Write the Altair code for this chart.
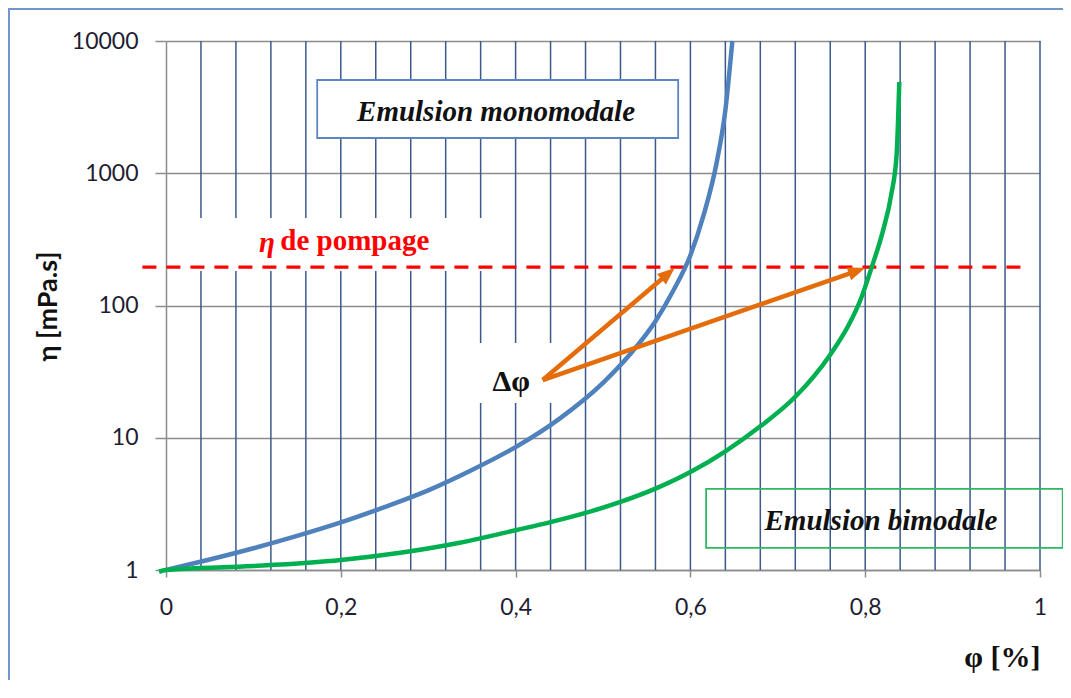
import math
import altair as alt
import pandas as pd

# ---------------- data ----------------
PHI_MONO = [0, 0.05, 0.1, 0.15, 0.2, 0.25, 0.3, 0.35, 0.4, 0.45, 0.5, 0.53,
            0.56, 0.58, 0.6, 0.615, 0.63, 0.64, 0.648]
ETA_MONO = [1, 1.2, 1.46, 1.81, 2.29, 2.99, 4.0, 5.7, 8.5, 13.9, 26, 42,
            76, 128, 240, 480, 1200, 3000, 10000]

PHI_BI = [-0.008, 0.0, 0.1, 0.2, 0.268, 0.33, 0.4, 0.44, 0.48, 0.52, 0.56, 0.6,
          0.64, 0.68, 0.72, 0.76, 0.78, 0.795, 0.808, 0.82, 0.83, 0.836, 0.839]
ETA_BI = [0.97, 1.0, 1.07, 1.19, 1.35, 1.58, 2.0, 2.3, 2.7, 3.27, 4.12, 5.5,
          7.9, 12.2, 20.4, 42.5, 69, 112, 200, 360, 700, 1400, 4900]

GRID_PHI = [0.04, 0.08, 0.12, 0.16, 0.2, 0.24, 0.28, 0.32, 0.36, 0.4, 0.44, 0.48,
            0.52, 0.56, 0.6, 0.64, 0.68, 0.72, 0.76, 0.8, 0.84, 0.88, 0.92, 0.96, 1.0]
X_TICKS = [0, 0.2, 0.4, 0.6, 0.8, 1]
Y_TICKS = [1, 10, 100, 1000, 10000]

ETA_POMPAGE = 195
POMPAGE_PHI = [-0.027, 0.987]

ARROW_START_PHI = 0.431
ARROW_START_ETA = 27.3
ARROW_TIP_PHI = [0.582, 0.80]
ARROW_TIP_ETA = [192, 192]

# annotation boxes (data coordinates)
MONO_BOX = dict(phi=0.173, phi2=0.586, eta=1848, eta2=5070)
BI_BOX = dict(phi=0.618, phi2=1.026, eta=1.47, eta2=4.10)
POMP_BG = dict(phi=0.02, phi2=0.38, eta=182, eta2=459)
DPHI_BG = dict(phi=0.345, phi2=0.455, eta=18.3, eta2=52)

# ---------------- layout ----------------
W, H = 874, 529

def px(phi):
    return phi * W

def py(eta):
    return H - math.log10(eta) / 4 * H

def to_data(x, y):
    return x / W, 10 ** ((H - y) / H * 4)

x_scale = alt.Scale(domain=[0, 1], nice=False, zero=False)
y_scale = alt.Scale(type="log", domain=[1, 10000], nice=False)

GRAY = "#8C8C8C"
LABEL_COLOR = "#1E1E32"

x_axis = alt.Axis(
    values=X_TICKS,
    labelExpr="replace(format(datum.value, '~g'), '.', ',')",
    grid=False, domainColor=GRAY, domainWidth=1.5,
    tickColor=GRAY, tickWidth=1.5, tickSize=7,
    labelFont="Lato", labelFontSize=23, labelColor=LABEL_COLOR,
    labelPadding=30, labelBaseline="middle", labelFlush=False,
    title="φ [%]", titleFont="Liberation Serif", titleFontSize=30,
    titleFontWeight="bold", titleColor="#111111",
    titleX=W, titleY=87, titleAlign="right", titleAnchor="end",
    titleBaseline="middle",
)
y_axis = alt.Axis(
    values=Y_TICKS, format="d",
    grid=True, gridColor=GRAY, gridWidth=1.5,
    domainColor=GRAY, domainWidth=1.5,
    tickColor=GRAY, tickWidth=1.5, tickSize=11,
    labelFont="Lato", labelFontSize=23, labelColor=LABEL_COLOR, labelPadding=17,
    title="η [mPa.s]", titleFont="Lato", titleFontSize=27, titleFontWeight="bold",
    titleColor="#111111", titleX=-118, titleY=265, titleAngle=270,
    titleAlign="center", titleBaseline="middle",
)

def X(f="phi"):
    return alt.X(f, type="quantitative", scale=x_scale, axis=x_axis)

def Y(f="eta"):
    return alt.Y(f, type="quantitative", scale=y_scale, axis=y_axis)

# ---------------- layers ----------------
vgrid = alt.Chart(pd.DataFrame({"phi": GRID_PHI})).mark_rule(
    color="#3A5A8C", strokeWidth=1.5
).encode(x=X())

def box_df(b):
    return pd.DataFrame({k: [v] for k, v in b.items()})

def rect(b, **kw):
    return alt.Chart(box_df(b)).mark_rect(**kw).encode(
        x=X(), x2=alt.X2("phi2"), y=Y(), y2=alt.Y2("eta2")
    )

pomp_bg = rect(POMP_BG, color="white")
dphi_bg = rect(DPHI_BG, color="white")
mono_box = rect(MONO_BOX, fill="white", stroke="#5B86C2", strokeWidth=1.8)
bi_box = rect(BI_BOX, fillOpacity=0, stroke="#2DB864", strokeWidth=1.8)

dashed = alt.Chart(pd.DataFrame({"phi": [POMPAGE_PHI[0]], "phi2": [POMPAGE_PHI[1]],
                                 "eta": [ETA_POMPAGE]})).mark_rule(
    color="#FF0000", strokeWidth=3.2, strokeDash=[14, 10]
).encode(x=X(), x2=alt.X2("phi2"), y=Y())

mono = alt.Chart(pd.DataFrame({"phi": PHI_MONO, "eta": ETA_MONO})).mark_line(
    color="#4F81BD", strokeWidth=4.5, interpolate="monotone"
).encode(x=X(), y=Y())
bi = alt.Chart(pd.DataFrame({"phi": PHI_BI, "eta": ETA_BI})).mark_line(
    color="#00B050", strokeWidth=4.5, interpolate="monotone"
).encode(x=X(), y=Y())

# arrows
ORANGE = "#E46C0A"
rows, heads = [], []
sx, sy = px(ARROW_START_PHI), py(ARROW_START_ETA)
for i, (tp, te) in enumerate(zip(ARROW_TIP_PHI, ARROW_TIP_ETA)):
    tx, ty = px(tp), py(te)
    dx, dy = tx - sx, ty - sy
    L = math.hypot(dx, dy)
    ex, ey = tx - dx / L * 10, ty - dy / L * 10
    ephi, eeta = to_data(ex, ey)
    rows.append({"id": i, "o": 0, "phi": ARROW_START_PHI, "eta": ARROW_START_ETA})
    rows.append({"id": i, "o": 1, "phi": ephi, "eta": eeta})
    heads.append({"phi": tp, "eta": te, "ang": math.degrees(math.atan2(dx, -dy)) % 360})

arrows = alt.Chart(pd.DataFrame(rows)).mark_line(
    color=ORANGE, strokeWidth=4.5
).encode(x=X(), y=Y(), detail="id:N", order="o:Q")
arrow_heads = alt.Chart(pd.DataFrame(heads)).mark_point(
    shape="M0,0 L0.8,2 L-0.8,2 Z", filled=True, color=ORANGE, opacity=1, size=300
).encode(x=X(), y=Y(), angle=alt.Angle("ang:Q", scale=None))

def label(text, phi, eta, color="#111111", style="normal", weight="bold", size=29, align="center"):
    return alt.Chart(pd.DataFrame({"phi": [phi], "eta": [eta], "t": [text]})).mark_text(
        font="Liberation Serif", fontSize=size, fontWeight=weight, fontStyle=style,
        color=color, align=align, baseline="middle"
    ).encode(x=X(), y=Y(), text="t:N")

t_mono = label("Emulsion monomodale", 0.3776, 2904, style="italic")
t_bi = label("Emulsion bimodale", 0.818, 2.35, style="italic")
t_eta = label("η", 0.1155, 297, color="#FF0000", style="italic")
t_pomp = label("de pompage", 0.216, 307, color="#FF0000")
t_dphi = label("Δφ", 0.395, 26.4, size=30)

frame = alt.Chart(pd.DataFrame({"a": [0]})).mark_rect(
    fillOpacity=0, stroke="#7096CC", strokeWidth=2
).encode(x=alt.value(-157), x2=alt.value(1000), y=alt.value(-32), y2=alt.value(800))

chart = alt.layer(
    vgrid, pomp_bg, dphi_bg, mono_box, bi_box, dashed, mono, bi,
    arrows, arrow_heads, t_mono, t_bi, t_eta, t_pomp, t_dphi, frame
).properties(
    width=W, height=H,
    autosize=alt.AutoSizeParams(type="none"),
    padding={"left": 158, "top": 33, "right": 23, "bottom": 110},
    background="white",
).configure_view(stroke=None)

chart.save("out.html", embed_options={"renderer": "svg", "actions": False})
